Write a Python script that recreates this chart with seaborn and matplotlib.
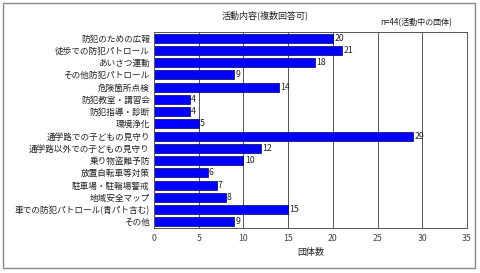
import matplotlib
matplotlib.use("Agg")
import matplotlib.pyplot as plt
import seaborn as sns
import pandas as pd
from matplotlib.patches import Rectangle

categories = ["防犯のための広報", "徒歩での防犯パトロール", "あいさつ運動", "その他防犯パトロール",
              "危険箇所点検", "防犯教室・講習会", "防犯指導・診断", "環境浄化",
              "通学路での子どもの見守り", "通学路以外での子どもの見守り", "乗り物盗難予防",
              "放置自転車等対策", "駐車場・駐輪場警戒", "地域安全マップ",
              "車での防犯パトロール(青パト含む)", "その他"]
values = [20, 21, 18, 9, 14, 4, 4, 5, 29, 12, 10, 6, 7, 8, 15, 9]
xticks = [0, 5, 10, 15, 20, 25, 30, 35]

sns.set_theme(style="white")
plt.rcParams['font.family'] = ['Noto Sans CJK JP', 'DejaVu Sans']

df = pd.DataFrame({"cat": categories, "val": values})

fig = plt.figure(figsize=(4.8, 2.73), dpi=100)
fig.patch.set_facecolor("white")
ax = fig.add_axes([154/480, 1-228/273, (467-154)/480, (228-32)/273])

sns.barplot(data=df, y="cat", x="val", orient="h", color="#0000FF",
            edgecolor="#000060", linewidth=0.5, width=0.72, ax=ax, saturation=1)

ax.set_xlim(0, 35)
ax.set_xticks(xticks)
ax.set_xticklabels([str(t) for t in xticks], fontsize=6.3, color="#444444")
ax.tick_params(axis='y', labelsize=6.2, pad=3, length=0)
ax.tick_params(axis='x', pad=4, length=0)
for lbl in ax.get_yticklabels():
    lbl.set_color("#222222")
ax.xaxis.grid(True, color="#555555", linewidth=0.7)
ax.set_axisbelow(True)
ax.set_ylabel("")
ax.set_xlabel("団体数", fontsize=6.5, color="#222222", labelpad=4)
for s in ax.spines.values():
    s.set_color("#555555")
    s.set_linewidth(0.7)

for i, v in enumerate(values):
    ax.text(v + 0.15, i, str(v), va="center", ha="left", fontsize=6.3, color="#222222")

fig.text(265/480, 1-15/273, "活動内容(複数回答可)", ha="center", va="center", fontsize=6.5, color="#222222")
fig.text(416/480, 1-23/273, "n=44(活動中の団体)", ha="center", va="center", fontsize=5.8, color="#222222")

fig.patches.append(Rectangle((3/480, 5/273), 472/480, 265/273, transform=fig.transFigure,
                             fill=False, edgecolor="#888888", linewidth=1))

fig.savefig("out.png", dpi=100)
